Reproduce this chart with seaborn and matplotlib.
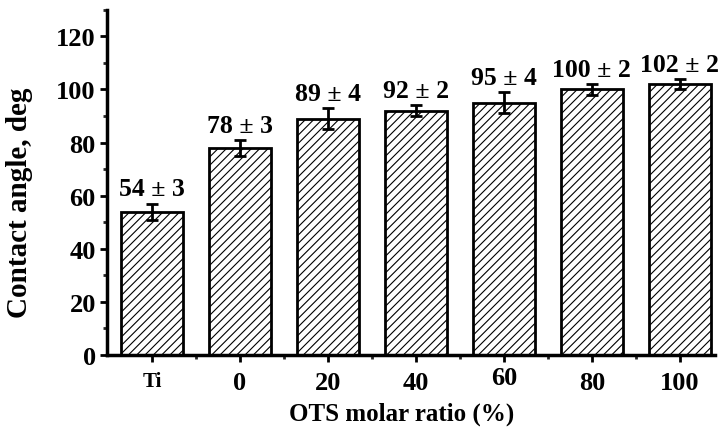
import matplotlib
matplotlib.use("Agg")
import matplotlib.pyplot as plt
from matplotlib.ticker import MultipleLocator
from matplotlib.transforms import ScaledTranslation
import seaborn as sns
import pandas as pd

categories = ["Ti", "0", "20", "40", "60", "80", "100"]
angles = [54, 78, 89, 92, 95, 100, 102]
errors = [3, 3, 4, 2, 4, 2, 2]

sns.set_theme(style="ticks")
plt.rcParams["font.family"] = ["Liberation Serif", "DejaVu Serif"]
plt.rcParams["font.weight"] = "bold"
plt.rcParams["text.color"] = "black"
plt.rcParams["axes.labelcolor"] = "black"
plt.rcParams["hatch.linewidth"] = 0.8

df = pd.DataFrame({"ratio": categories, "angle": angles})

fig = plt.figure(figsize=(7.18, 4.35), dpi=100)
ax = fig.add_axes([0.149, 0.182, 0.847, 0.793])

sns.barplot(data=df, x="ratio", y="angle", order=categories, color="white",
            edgecolor="black", linewidth=2, width=0.7, ax=ax, errorbar=None)
for p in ax.patches:
    p.set_hatch("////")

ax.errorbar(range(len(categories)), angles, yerr=errors, fmt="none",
            ecolor="black", elinewidth=2, capsize=4, capthick=2)

for i, (v, e) in enumerate(zip(angles, errors)):
    ax.text(i, v + e + 1.2, f"{v} \u00b1 {e}", ha="center", va="bottom",
            fontsize=18.5, fontweight="bold", color="black")

ax.set_xlim(-0.51, 6.4)
ax.set_ylim(0, 130)
ax.yaxis.set_major_locator(MultipleLocator(20))
ax.yaxis.set_minor_locator(MultipleLocator(10))
ax.set_yticks(range(0, 121, 20))
ax.set_xticks(range(len(categories)))
ax.set_xticks([i + 0.5 for i in range(len(categories) - 1)], minor=True)
ax.set_xticklabels(categories)

ax.tick_params(axis="both", which="major", direction="out", length=5, width=2,
               labelsize=19, colors="black")
ax.tick_params(axis="both", which="minor", direction="out", length=3, width=2)
ax.tick_params(axis="x", pad=7)
ax.tick_params(axis="y", pad=3)
xlabels = ax.get_xticklabels()
for lbl in xlabels + ax.get_yticklabels():
    lbl.set_fontweight("bold")
xlabels[0].set_fontsize(15)
# the "60" label sits a little higher than its neighbours
xlabels[4].set_transform(xlabels[4].get_transform() +
                         ScaledTranslation(0, 5 / 100, fig.dpi_scale_trans))

for s in ["top", "right"]:
    ax.spines[s].set_visible(False)
for s in ["left", "bottom"]:
    ax.spines[s].set_linewidth(2.5)
    ax.spines[s].set_color("black")

ax.set_xlabel("OTS molar ratio (%)", fontsize=18, fontweight="bold")
ax.set_ylabel("Contact angle, deg", fontsize=21, fontweight="bold")
ax.xaxis.set_label_coords(0.485, -0.135)
ax.yaxis.set_label_coords(-0.122, 0.443)

fig.savefig("out.png", dpi=100)
